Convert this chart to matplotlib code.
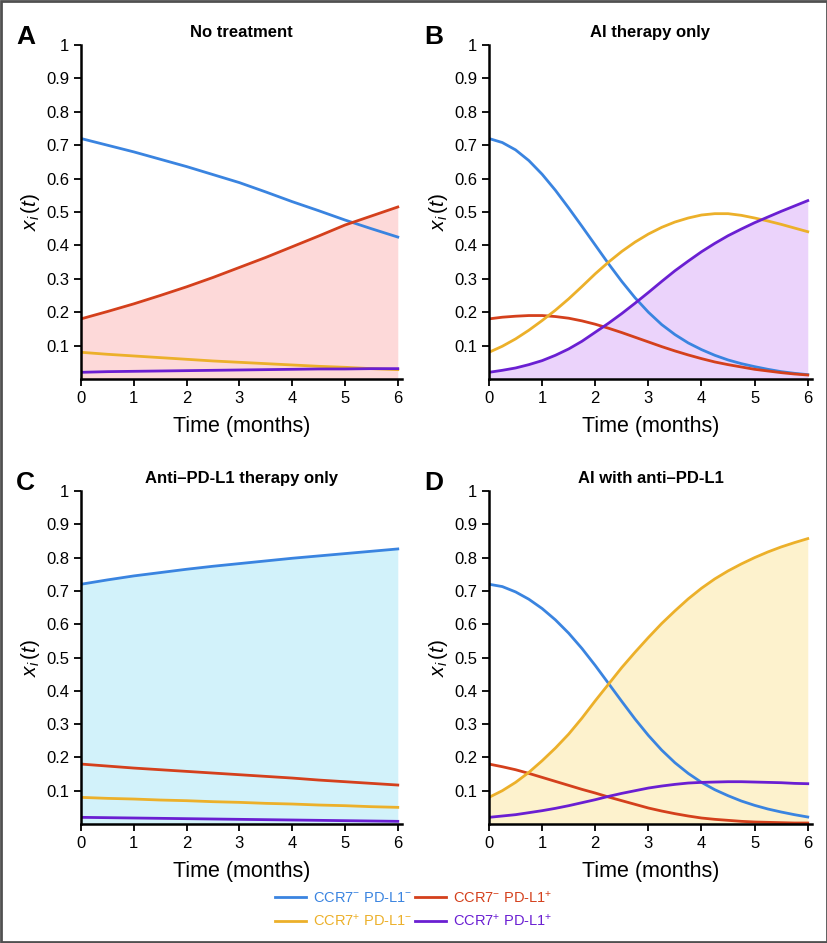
import matplotlib
matplotlib.use('Agg')
import matplotlib.pyplot as plt
from matplotlib.patches import Rectangle
from matplotlib.lines import Line2D

plt.rcParams['font.family'] = ['Liberation Sans', 'DejaVu Sans']
plt.rcParams['mathtext.fontset'] = 'custom'
plt.rcParams['mathtext.rm'] = 'Liberation Sans'
plt.rcParams['mathtext.it'] = 'Liberation Sans:italic'

# time points (months)
t = [0, 0.5, 1, 1.5, 2, 2.5, 3, 3.5, 4, 4.5, 5, 5.5, 6]
t_fine = [0, 0.25, 0.5, 0.75, 1, 1.25, 1.5, 1.75, 2, 2.25, 2.5, 2.75, 3,
          3.25, 3.5, 3.75, 4, 4.25, 4.5, 4.75, 5, 5.25, 5.5, 5.75, 6]

# A: no treatment
a_blue = [0.72, 0.70, 0.68, 0.658, 0.636, 0.612, 0.588, 0.56, 0.531, 0.504, 0.476, 0.45, 0.425]
a_red = [0.18, 0.202, 0.225, 0.25, 0.276, 0.304, 0.334, 0.364, 0.396, 0.428, 0.461, 0.488, 0.515]
a_yellow = [0.08, 0.074, 0.069, 0.064, 0.059, 0.054, 0.05, 0.046, 0.042, 0.038, 0.035, 0.031, 0.028]
a_purple = [0.02, 0.022, 0.023, 0.024, 0.025, 0.026, 0.027, 0.028, 0.029, 0.03, 0.03, 0.031, 0.031]

# B: AI therapy only
b_blue = [0.72, 0.708, 0.686, 0.654, 0.613, 0.565, 0.512, 0.457, 0.401, 0.345, 0.292, 0.243, 0.20,
          0.163, 0.133, 0.108, 0.088, 0.071, 0.057, 0.046, 0.037, 0.029, 0.022, 0.017, 0.013]
b_red = [0.18, 0.185, 0.188, 0.19, 0.19, 0.187, 0.182, 0.174, 0.164, 0.152, 0.139, 0.125, 0.111,
         0.097, 0.084, 0.072, 0.061, 0.051, 0.043, 0.036, 0.029, 0.024, 0.019, 0.015, 0.012]
b_yellow = [0.08, 0.098, 0.12, 0.146, 0.175, 0.206, 0.24, 0.277, 0.315, 0.35, 0.382, 0.41, 0.434,
            0.454, 0.47, 0.482, 0.491, 0.495, 0.495, 0.49, 0.482, 0.473, 0.463, 0.452, 0.441]
b_purple = [0.02, 0.026, 0.033, 0.043, 0.055, 0.071, 0.09, 0.113, 0.14, 0.167, 0.196, 0.227, 0.259,
            0.292, 0.324, 0.353, 0.381, 0.406, 0.429, 0.449, 0.468, 0.485, 0.502, 0.518, 0.534]

# C: anti-PD-L1 therapy only
c_blue = [0.72, 0.733, 0.745, 0.755, 0.765, 0.774, 0.782, 0.79, 0.798, 0.805, 0.812, 0.819, 0.826]
c_red = [0.18, 0.174, 0.168, 0.163, 0.158, 0.153, 0.148, 0.143, 0.138, 0.132, 0.127, 0.122, 0.117]
c_yellow = [0.08, 0.077, 0.075, 0.072, 0.07, 0.067, 0.065, 0.062, 0.06, 0.057, 0.055, 0.052, 0.05]
c_purple = [0.02, 0.019, 0.018, 0.017, 0.016, 0.015, 0.014, 0.013, 0.012, 0.011, 0.01, 0.009, 0.008]

# D: AI with anti-PD-L1
d_blue = [0.72, 0.713, 0.697, 0.675, 0.647, 0.613, 0.573, 0.527, 0.476, 0.422, 0.368, 0.315, 0.266,
          0.222, 0.184, 0.152, 0.125, 0.103, 0.085, 0.069, 0.056, 0.045, 0.036, 0.028, 0.021]
d_red = [0.18, 0.172, 0.163, 0.152, 0.14, 0.128, 0.116, 0.104, 0.093, 0.081, 0.07, 0.059, 0.048,
         0.039, 0.031, 0.024, 0.018, 0.014, 0.011, 0.008, 0.006, 0.005, 0.004, 0.003, 0.003]
d_yellow = [0.08, 0.10, 0.125, 0.155, 0.19, 0.228, 0.27, 0.318, 0.37, 0.42, 0.47, 0.516, 0.56,
            0.602, 0.64, 0.676, 0.708, 0.736, 0.76, 0.781, 0.80, 0.817, 0.832, 0.845, 0.857]
d_purple = [0.02, 0.024, 0.028, 0.034, 0.04, 0.047, 0.055, 0.064, 0.073, 0.083, 0.092, 0.10, 0.108,
            0.114, 0.119, 0.123, 0.125, 0.126, 0.127, 0.127, 0.126, 0.125, 0.124, 0.122, 0.121]

labels = [r'CCR7$^{-}$ PD-L1$^{-}$', r'CCR7$^{-}$ PD-L1$^{+}$',
          r'CCR7$^{+}$ PD-L1$^{-}$', r'CCR7$^{+}$ PD-L1$^{+}$']
colors = ['#3a84e0', '#d4401c', '#ecb02a', '#6a1fd2']

panels = [
    ('A', 'No treatment', t, [a_blue, a_red, a_yellow, a_purple], 1, '#fdd9d9'),
    ('B', 'AI therapy only', t_fine, [b_blue, b_red, b_yellow, b_purple], 3, '#ebd3fb'),
    ('C', 'Anti\u2013PD-L1 therapy only', t, [c_blue, c_red, c_yellow, c_purple], 0, '#d2f2fa'),
    ('D', 'AI with anti\u2013PD-L1', t_fine, [d_blue, d_red, d_yellow, d_purple], 2, '#fdf2cd'),
]

W, H = 828, 943
fig = plt.figure(figsize=(W / 100, H / 100), dpi=100)

# axes boxes in pixels: left, top, right, bottom
boxes = [(81, 45, 402, 379), (489, 45, 812, 379),
         (81, 491, 402, 824), (489, 491, 812, 824)]

for (letter, title, tt, series, fill_idx, fill_col), (l, tp, r, b) in zip(panels, boxes):
    ax = fig.add_axes([l / W, 1 - b / H, (r - l) / W, (b - tp) / H])
    ax.fill_between(tt, 0, series[fill_idx], color=fill_col, lw=0)
    for y, c in zip(series, colors):
        ax.plot(tt, y, color=c, lw=2)
    ax.set_xlim(0, 6.08)
    ax.set_ylim(0, 1)
    ax.set_xticks(range(7))
    ax.set_yticks([0.1, 0.2, 0.3, 0.4, 0.5, 0.6, 0.7, 0.8, 0.9, 1])
    ax.set_yticklabels(['0.1', '0.2', '0.3', '0.4', '0.5', '0.6', '0.7', '0.8', '0.9', '1'])
    ax.tick_params(labelsize=12, length=5, width=1.3, direction='out')
    for s in ['top', 'right']:
        ax.spines[s].set_visible(False)
    for s in ['left', 'bottom']:
        ax.spines[s].set_linewidth(1.8)
    ax.set_xlabel('Time (months)', fontsize=15.5, labelpad=7)
    ax.set_ylabel(r'$x_i\,(t)$', fontsize=15, labelpad=3)
    ax.set_title(title, fontsize=12, fontweight='bold', pad=6)
    fig.text((l - 65) / W, 1 - (tp - 1) / H, letter, fontsize=19, fontweight='bold',
             ha='left', va='baseline')

handles = [Line2D([], [], color=c, lw=2) for c in colors]
order = [0, 2, 1, 3]
leg = fig.legend([handles[i] for i in order], [labels[i] for i in order],
                 ncol=2, loc='center', bbox_to_anchor=(414 / W, 1 - 909 / H),
                 frameon=False, fontsize=10.5, handlelength=2.1, handletextpad=0.5,
                 columnspacing=0.2, labelspacing=0.5)
for txt, i in zip(leg.get_texts(), order):
    txt.set_color(colors[i])

fig.add_artist(Rectangle((0.001, 0.001), 0.998, 0.998, transform=fig.transFigure,
                         fill=False, edgecolor='#505050', lw=2))

fig.savefig('out.png', dpi=100)
